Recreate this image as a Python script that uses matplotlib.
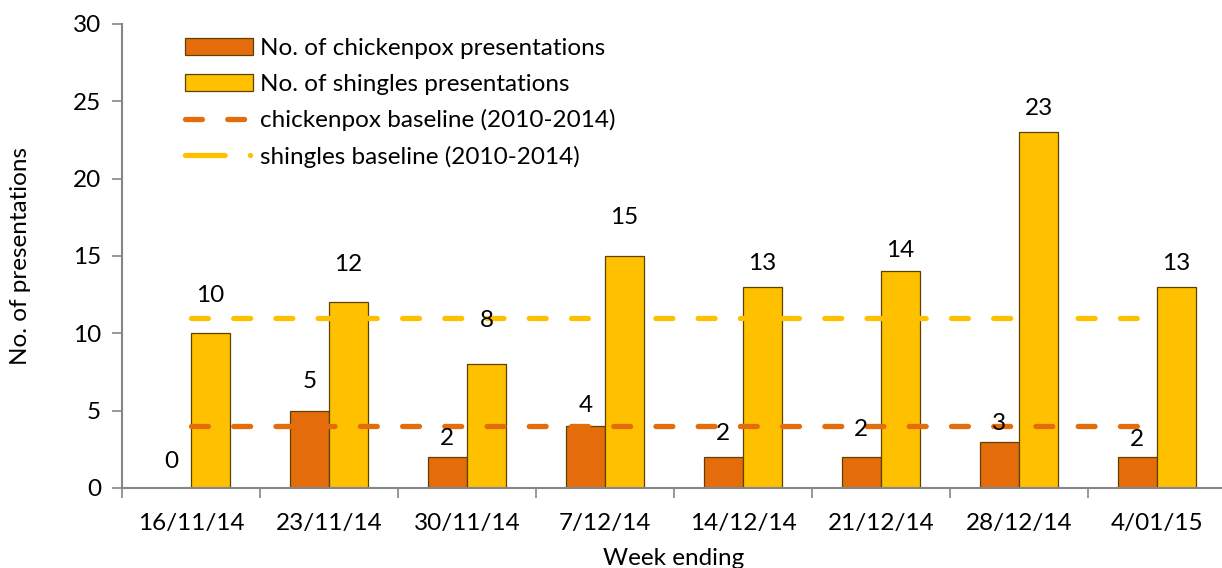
import matplotlib
matplotlib.use('Agg')
import matplotlib.pyplot as plt
from matplotlib.lines import Line2D
import numpy as np

# ===========数据================
weeks = ['16/11/14', '23/11/14', '30/11/14', '7/12/14',
         '14/12/14', '21/12/14', '28/12/14', '4/01/15']
chickenpox = [0, 5, 2, 4, 2, 2, 3, 2]
shingles = [10, 12, 8, 15, 13, 14, 23, 13]
chickenpox_base = [4, 4, 4, 4, 4, 4, 4, 4]
shingles_base = [11, 11, 11, 11, 11, 11, 11, 11]

# label offsets above bar tops (pixels), as placed in the original
cp_dy = [27, 29, 19, 21, 24, 28, 18, 18]
sh_dy = [38, 38, 44, 39, 23, 21, 24, 23]

# ===========样式================
plt.rcParams['font.family'] = ['Lato', 'DejaVu Sans']
FS = 17.5
ORANGE = '#E46C0A'
YELLOW = '#FFC000'
EDGE = '#5C4100'
AXC = '#868686'

fig = plt.figure(figsize=(12.22, 5.68), dpi=100)
ax = fig.add_axes([122 / 1222, 80 / 568, 1104 / 1222, 464 / 568])

x = np.arange(len(weeks))
w = 0.284
b1 = ax.bar(x - w / 2, chickenpox, w, color=ORANGE, edgecolor=EDGE, linewidth=0.9,
            label='No. of chickenpox presentations', zorder=2)
b2 = ax.bar(x + w / 2, shingles, w, color=YELLOW, edgecolor=EDGE, linewidth=0.9,
            label='No. of shingles presentations', zorder=2)
l1, = ax.plot(x, chickenpox_base, color=ORANGE, lw=3.8, dashes=(3.2, 4.8),
              dash_capstyle='round', label='chickenpox baseline (2010-2014)', zorder=3)
ax.plot(x, shingles_base, color=YELLOW, lw=3.8, dashes=(3.2, 4.8),
        dash_capstyle='round', zorder=3)
# legend handle of the shingles line looks like long dash + dot in the original
l2 = Line2D([], [], color=YELLOW, lw=3.8, dashes=(7.5, 4.8, 0.01, 4.8),
            dash_capstyle='round', label='shingles baseline (2010-2014)')

for i in range(len(weeks)):
    ax.annotate(str(chickenpox[i]), (x[i] - w / 2, chickenpox[i]), xytext=(0, cp_dy[i]),
                textcoords='offset pixels', ha='center', va='center', fontsize=FS, zorder=4)
    ax.annotate(str(shingles[i]), (x[i] + w / 2, shingles[i]), xytext=(0, sh_dy[i]),
                textcoords='offset pixels', ha='center', va='center', fontsize=FS, zorder=4)

ax.set_xlim(-0.5, len(weeks) - 0.5)
ax.set_ylim(0, 30)
ax.set_yticks(range(0, 31, 5))
ax.set_xticks(x)
ax.set_xticklabels(weeks, fontsize=FS)
ax.set_xticks(np.arange(-0.5, len(weeks), 1), minor=True)
ax.tick_params(axis='x', which='major', length=0, pad=18)
ax.tick_params(axis='x', which='minor', length=7, width=1.2, color=AXC)
ax.tick_params(axis='y', length=7, width=1.2, color=AXC, labelsize=FS, pad=8)
for s in ['top', 'right']:
    ax.spines[s].set_visible(False)
for s in ['left', 'bottom']:
    ax.spines[s].set_color(AXC)
    ax.spines[s].set_linewidth(1.5)

ax.set_ylabel('No. of presentations', fontsize=FS, labelpad=30)
ax.set_xlabel('Week ending', fontsize=FS, labelpad=10)

ax.legend(handles=[b1, b2, l1, l2], loc='upper left', bbox_to_anchor=(0.057, 0.97),
          frameon=False, fontsize=FS, borderaxespad=0, borderpad=0,
          handlelength=2.8, handletextpad=0.3, labelspacing=0.6)

fig.savefig('out.png', dpi=100)
